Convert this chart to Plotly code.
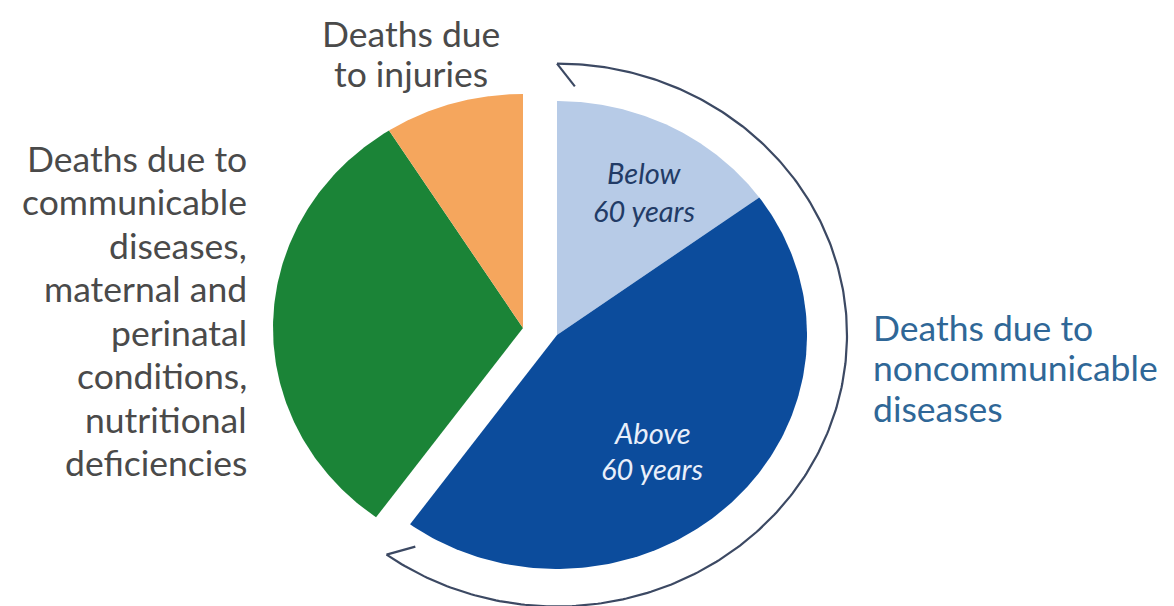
import numpy as np
import plotly.graph_objects as go

# Share of all deaths (%), listed clockwise from 12 o'clock
segments = [
    "Noncommunicable diseases, below 60 years",
    "Noncommunicable diseases, above 60 years",
    "Communicable diseases, maternal and perinatal conditions, nutritional deficiencies",
    "Injuries",
]
shares = [15, 45, 31, 9]
colors = ["#b7cbe7", "#0c4c9c", "#1b8437", "#f5a65d"]
ncd_group = [True, True, False, False]

inner_labels = [["Below", "60 years"], ["Above", "60 years"]]
left_label = ["Deaths due to", "communicable", "diseases,", "maternal and",
              "perinatal", "conditions,", "nutritional", "deficiencies"]
top_label = ["Deaths due", "to injuries"]
right_label = ["Deaths due to", "noncommunicable", "diseases"]

# ---- geometry (pixels; y grows downwards) ----
W, H = 1174, 606
CX, CY = 523, 328          # centre of the pie
RX, RY = 250, 234          # pie radii
PULL_X, PULL_Y = 34, 7     # offset of the noncommunicable wedge group
ARC_SCALE = 1.16           # arrow arc radius relative to the pie
BARB_LEN, BARB_ANG = 29, np.radians(52)
ARC_COLOR = "#3c4963"
FONT = "Lato"
OUTER_SIZE = 35.5
INNER_SIZE = 29

fig = go.Figure()

total = float(sum(shares))
bounds = np.concatenate([[0.0], np.cumsum(shares)]) / total * 2 * np.pi

for i, name in enumerate(segments):
    th = np.linspace(bounds[i], bounds[i + 1], 160)
    ox, oy = (PULL_X, PULL_Y) if ncd_group[i] else (0, 0)
    cx, cy = CX + ox, CY + oy
    xs = np.concatenate([[cx], cx + RX * np.sin(th), [cx]])
    ys = np.concatenate([[cy], cy - RY * np.cos(th), [cy]])
    fig.add_trace(go.Scatter(
        x=xs, y=ys, mode="lines", fill="toself", fillcolor=colors[i],
        line=dict(width=0, color=colors[i]), hoverinfo="text",
        text=f"{name}: {shares[i]}%", showlegend=False,
    ))

# ---- double-headed arc around the noncommunicable group ----
bcx, bcy = CX + PULL_X, CY + PULL_Y
ax_r, ay_r = RX * ARC_SCALE, RY * ARC_SCALE
ncd_end = bounds[sum(ncd_group)]
th = np.linspace(0, ncd_end, 300)
arc_x = bcx + ax_r * np.sin(th)
arc_y = bcy - ay_r * np.cos(th)
fig.add_trace(go.Scatter(x=arc_x, y=arc_y, mode="lines",
                         line=dict(color=ARC_COLOR, width=2.2),
                         hoverinfo="skip", showlegend=False))


def barb(theta, forward):
    px = bcx + ax_r * np.sin(theta)
    py = bcy - ay_r * np.cos(theta)
    t = np.array([ax_r * np.cos(theta), ay_r * np.sin(theta)])
    t = t / np.linalg.norm(t) * (1 if forward else -1)
    n = np.array([bcx - px, bcy - py])
    n = n / np.linalg.norm(n)
    d = np.cos(BARB_ANG) * t + np.sin(BARB_ANG) * n
    return [px, px + BARB_LEN * d[0]], [py, py + BARB_LEN * d[1]]


for theta, fwd in [(0.0, True), (ncd_end, False)]:
    bx, by = barb(theta, fwd)
    fig.add_trace(go.Scatter(x=bx, y=by, mode="lines",
                             line=dict(color=ARC_COLOR, width=2.2),
                             hoverinfo="skip", showlegend=False))

# ---- text ----
annotations = []


def put(text, x, y, anchor, size, color, italic=False):
    annotations.append(dict(
        x=x, y=y, xref="x", yref="y", text=f"<i>{text}</i>" if italic else text,
        showarrow=False, xanchor=anchor, yanchor="middle",
        font=dict(family=FONT, size=size, color=color),
    ))


for k, line in enumerate(left_label):
    put(line, 249, 158 + 43.5 * k, "right", OUTER_SIZE, "#4a4a4a")
for k, line in enumerate(top_label):
    put(line, 411, 33 + 40 * k, "center", OUTER_SIZE, "#4a4a4a")
for k, line in enumerate(right_label):
    put(line, 871, 327 + 40.5 * k, "left", OUTER_SIZE, "#2f6797")

for k, line in enumerate(inner_labels[0]):
    put(line, 644, 172 + 38 * k, "center", INNER_SIZE, "#223b66", italic=True)
for k, line in enumerate(inner_labels[1]):
    put(line, 652, 432 + 36 * k, "center", INNER_SIZE, "#e9effa", italic=True)

fig.update_layout(
    width=W, height=H,
    margin=dict(l=0, r=0, t=0, b=0),
    paper_bgcolor="white", plot_bgcolor="white",
    xaxis=dict(range=[0, W], visible=False, fixedrange=True),
    yaxis=dict(range=[H, 0], visible=False, fixedrange=True),
    annotations=annotations,
    showlegend=False,
)

fig.write_html("out.html")
